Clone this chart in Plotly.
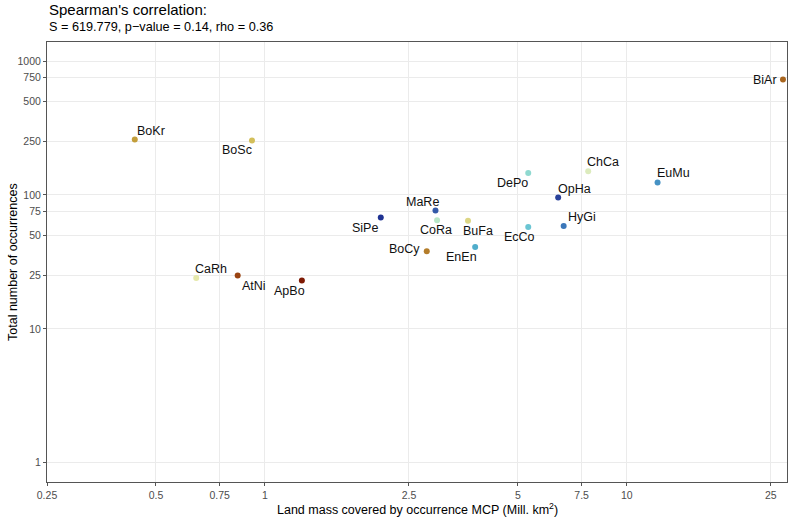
import math
import plotly.graph_objects as go

species = ["ApBo", "AtNi", "BiAr", "BoCy", "BoKr", "BoSc", "BuFa", "CaRh", "ChCa",
           "CoRa", "DePo", "EcCo", "EnEn", "EuMu", "HyGi", "MaRe", "OpHa", "SiPe"]
land_mass = [1.265, 0.841, 27.0, 2.80, 0.437, 0.921, 3.64, 0.646, 7.82,
             2.99, 5.34, 5.34, 3.81, 12.16, 6.69, 2.96, 6.46, 2.09]
occurrences = [23.0, 25.0, 727, 38.0, 259, 255, 64.0, 24.0, 150,
               64.7, 146, 57.7, 40.9, 124, 58.7, 76.5, 95.7, 67.8]
colors = ["#7E1A04", "#9A4412", "#A9661F", "#B47D2A", "#C39E3A", "#D3BF5A", "#DDD684",
          "#E5E8AA", "#DCEBBD", "#B9E7C8", "#8FD9D0", "#6AC5D3", "#50ADCB", "#4692C4",
          "#3C77B9", "#3359A8", "#2A429B", "#1F3292"]
# label offsets in pixels (dx right, dy down) relative to the point
label_dx = [-12, 16, -18, -22, 16, -15, 10, 15, 15, -1, -16, -9, -14, 16, 18, -13, 16, -16]
label_dy = [11, 10, 0, -2, -9, 10, 10, -9, -9, 10, 10, 10, 10, -9, -9, -8, -8, 10]

x_ticks = [0.25, 0.5, 0.75, 1, 2.5, 5, 7.5, 10, 25]
x_tick_labels = ["0.25", "0.5", "0.75", "1", "2.5", "5", "7.5", "10", "25"]
y_ticks = [1, 10, 25, 50, 75, 100, 250, 500, 750, 1000]
y_tick_labels = ["1", "10", "25", "50", "75", "100", "250", "500", "750", "1000"]

FONT = "Liberation Sans, Arial, Helvetica, sans-serif"

fig = go.Figure()
fig.add_trace(go.Scatter(
    x=land_mass, y=occurrences, mode="markers",
    marker=dict(size=6, color=colors, line=dict(width=0)),
    showlegend=False, hoverinfo="text", text=species, cliponaxis=False,
))

annotations = []
for s, xv, yv, dx, dy in zip(species, land_mass, occurrences, label_dx, label_dy):
    annotations.append(dict(
        x=math.log10(xv), y=math.log10(yv), xref="x", yref="y", text=s, showarrow=False,
        xshift=dx, yshift=-dy, font=dict(family=FONT, size=12.5, color="#111111"),
        xanchor="center", yanchor="middle",
    ))

annotations.append(dict(
    x=0, y=1, xref="paper", yref="paper", xanchor="left", yanchor="middle",
    yshift=33, text="Spearman's correlation:", showarrow=False,
    font=dict(family=FONT, size=15, color="#000000"),
))
annotations.append(dict(
    x=0, y=1, xref="paper", yref="paper", xanchor="left", yanchor="middle",
    yshift=15, text="S = 619.779, p\u2212value = 0.14, rho = 0.36", showarrow=False,
    font=dict(family=FONT, size=12.7, color="#000000"),
))
annotations.append(dict(
    x=0.5, y=0, xref="paper", yref="paper", xanchor="center", yanchor="middle",
    yshift=-27, text="Land mass covered by occurrence MCP (Mill. km<sup>2</sup>)", showarrow=False,
    font=dict(family=FONT, size=12.5, color="#000000"),
))
annotations.append(dict(
    x=0, y=0.5, xref="paper", yref="paper", xanchor="center", yanchor="middle",
    xshift=-34, textangle=-90, text="Total number of occurrences", showarrow=False,
    font=dict(family=FONT, size=12.5, color="#000000"),
))

fig.update_layout(
    width=791, height=520,
    margin=dict(l=47, r=4, t=42, b=38, autoexpand=False),
    paper_bgcolor="white", plot_bgcolor="white",
    font=dict(family=FONT),
    annotations=annotations,
    xaxis=dict(
        type="log", range=[-0.60206, 1.4425], automargin=False,
        tickvals=x_ticks, ticktext=x_tick_labels,
        showgrid=True, gridcolor="#EBEBEB", gridwidth=1,
        zeroline=False, showline=True, mirror=True, linecolor="#555555", linewidth=1,
        ticks="outside", ticklen=3, tickcolor="#555555", tickwidth=1,
        tickfont=dict(family=FONT, size=10.5, color="#4D4D4D"),
    ),
    yaxis=dict(
        type="log", range=[-0.144, 3.142], automargin=False,
        tickvals=y_ticks, ticktext=y_tick_labels,
        showgrid=True, gridcolor="#EBEBEB", gridwidth=1,
        zeroline=False, showline=True, mirror=True, linecolor="#555555", linewidth=1,
        ticks="outside", ticklen=3, tickcolor="#555555", tickwidth=1,
        tickfont=dict(family=FONT, size=10.5, color="#4D4D4D"),
    ),
)

fig.write_html("out.html", config={"displayModeBar": False},
               post_script="document.body.style.margin='0';document.body.style.padding='0';")
